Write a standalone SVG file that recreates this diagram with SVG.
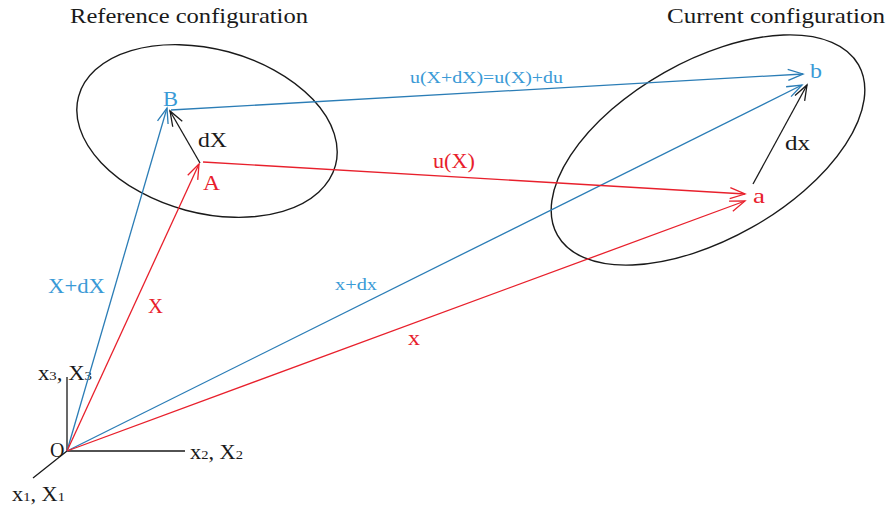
<svg xmlns="http://www.w3.org/2000/svg" width="890" height="508" viewBox="0 0 890 508">
<style>
text{font-family:"Liberation Serif","DejaVu Serif",serif;}
.t{font-size:21px;fill:#1a1a1a;}
.lb{fill:#3a9ad6;}
.lr{fill:#e8202c;}
.lk{fill:#1a1a1a;}
.blue{stroke:#2b7db6;stroke-width:1.3;fill:none;}
.red{stroke:#e8202c;stroke-width:1.3;fill:none;}
.blk{stroke:#1a1a1a;stroke-width:1.3;fill:none;}
.ell{stroke:#1a1a1a;stroke-width:1.4;fill:none;}
</style>
<defs>
<marker id="ab" markerUnits="userSpaceOnUse" markerWidth="20" markerHeight="20" refX="0" refY="0" orient="auto" overflow="visible"><path d="M-15,-5.5 L0,0 L-15,5.5" stroke="#2b7db6" stroke-width="1.3" fill="none"/></marker>
<marker id="ar" markerUnits="userSpaceOnUse" markerWidth="20" markerHeight="20" refX="0" refY="0" orient="auto" overflow="visible"><path d="M-15,-5.5 L0,0 L-15,5.5" stroke="#e8202c" stroke-width="1.3" fill="none"/></marker>
<marker id="ak" markerUnits="userSpaceOnUse" markerWidth="20" markerHeight="20" refX="0" refY="0" orient="auto" overflow="visible"><path d="M-15,-5.5 L0,0 L-15,5.5" stroke="#1a1a1a" stroke-width="1.3" fill="none"/></marker>
</defs>

<g id="titles">
<text class="t" x="70" y="23" textLength="238" lengthAdjust="spacingAndGlyphs">Reference configuration</text>
<text class="t" x="667" y="23" textLength="218" lengthAdjust="spacingAndGlyphs">Current configuration</text>
</g>

<g id="reference-region">
<ellipse class="ell" cx="207" cy="131" rx="133" ry="82" transform="rotate(15 207 131)"/>
</g>
<g id="current-region">
<ellipse class="ell" cx="708" cy="150" rx="173" ry="89" transform="rotate(-29.5 708 150)"/>
</g>

<g id="axes">
<path class="blk" d="M67,451 V377 M67,451 H185 M67,451 L33,478"/>
<text class="lk" x="38" y="380" font-size="20" textLength="54" lengthAdjust="spacingAndGlyphs">x<tspan font-size="13">3</tspan>, X<tspan font-size="13">3</tspan></text>
<text class="lk" x="50" y="457" font-size="20">O</text>
<text class="lk" x="190" y="459" font-size="20" textLength="53" lengthAdjust="spacingAndGlyphs">x<tspan font-size="13">2</tspan>, X<tspan font-size="13">2</tspan></text>
<text class="lk" x="12" y="501" font-size="20" textLength="53" lengthAdjust="spacingAndGlyphs">x<tspan font-size="13">1</tspan>, X<tspan font-size="13">1</tspan></text>
</g>

<g id="connectors">
<path class="blue" d="M67,451 L167,108" marker-end="url(#ab)"/>
<path class="red" d="M67,451 L199,164" marker-end="url(#ar)"/>
<path class="blue" d="M67,451 L802,85" marker-end="url(#ab)"/>
<path class="red" d="M67,451 L745,201" marker-end="url(#ar)"/>
<path class="blk" d="M200,163 L170,111" marker-end="url(#ak)"/>
<path class="red" d="M203,162 L745,194" marker-end="url(#ar)"/>
<path class="blue" d="M171,110 L803,74" marker-end="url(#ab)"/>
<path class="blk" d="M753,184 L807,85" marker-end="url(#ak)"/>
</g>

<g id="point-B"><text class="lb" x="163" y="106" font-size="21" textLength="15" lengthAdjust="spacingAndGlyphs">B</text></g>
<g id="point-A"><text class="lr" x="203" y="190" font-size="21" textLength="17" lengthAdjust="spacingAndGlyphs">A</text></g>
<g id="point-b"><text class="lb" x="810" y="78" font-size="21" textLength="12" lengthAdjust="spacingAndGlyphs">b</text></g>
<g id="point-a"><text class="lr" x="753" y="203" font-size="21" textLength="12" lengthAdjust="spacingAndGlyphs">a</text></g>

<g id="labels">
<text class="lk" x="198" y="147" font-size="20" textLength="29" lengthAdjust="spacingAndGlyphs">dX</text>
<text class="lk" x="785" y="150" font-size="20" textLength="25" lengthAdjust="spacingAndGlyphs">dx</text>
<text class="lr" x="433" y="168" font-size="20" textLength="42" lengthAdjust="spacingAndGlyphs">u(X)</text>
<text class="lb" x="410" y="83" font-size="17" textLength="153" lengthAdjust="spacingAndGlyphs">u(X+dX)=u(X)+du</text>
<text class="lb" x="48" y="293" font-size="21" textLength="57" lengthAdjust="spacingAndGlyphs">X+dX</text>
<text class="lr" x="148" y="313" font-size="21" textLength="15" lengthAdjust="spacingAndGlyphs">X</text>
<text class="lb" x="335" y="290" font-size="17" textLength="42" lengthAdjust="spacingAndGlyphs">x+dx</text>
<text class="lr" x="408" y="345" font-size="20" textLength="12" lengthAdjust="spacingAndGlyphs">x</text>
</g>
</svg>
